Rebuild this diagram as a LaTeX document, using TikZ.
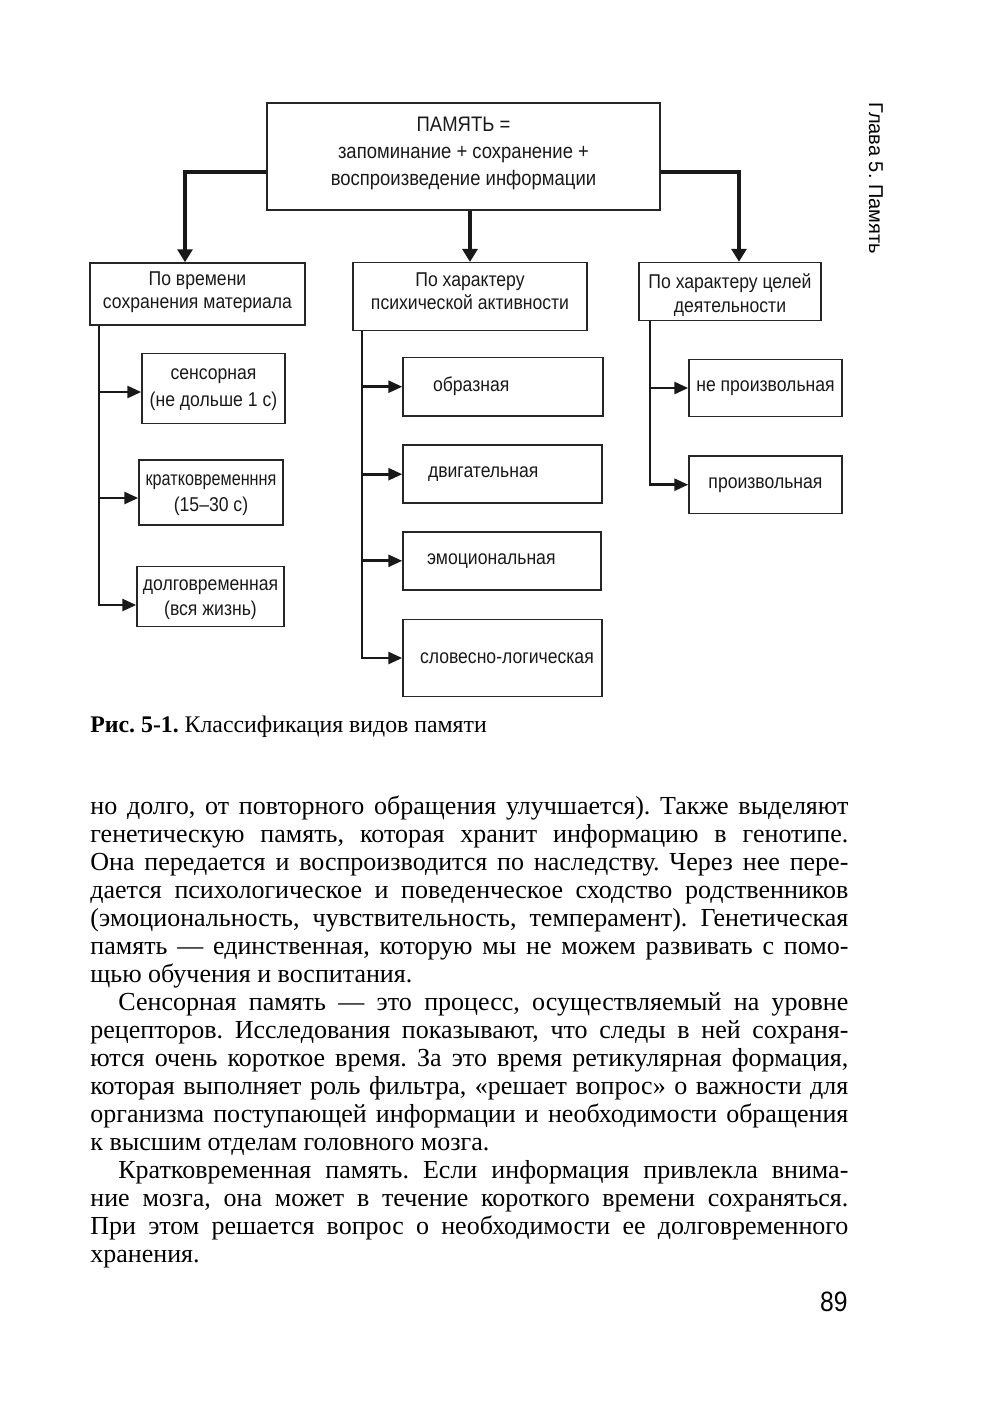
\documentclass[tikz,border=0pt]{standalone}
\usepackage{fontspec}
\setmainfont{Liberation Serif}
\newfontfamily\dsans[FakeStretch=0.88]{Liberation Sans}
\newfontfamily\dsansn[FakeStretch=0.81]{Liberation Sans}
\newfontfamily\hsans{Liberation Sans}
\newfontfamily\bodyfont{Liberation Serif}
\usetikzlibrary{arrows.meta}
\frenchspacing
\begin{document}
\begin{tikzpicture}[x=0.5pt,y=-0.5pt,
  box/.style={draw=black!85, line width=0.75pt, inner sep=0pt, text=black!90,
    font=\dsans\fontsize{10}{11.5}\selectfont},
  conn/.style={draw=black!90, line width=1.6pt, -{Triangle[length=6.5pt,width=7.5pt]}},
  branch/.style={draw=black!90, line width=1.35pt, -{Triangle[length=7pt,width=6pt]}},
  bodyline/.style={anchor=base west, inner sep=0pt, font=\bodyfont\fontsize{13}{14}\selectfont},
]
\useasboundingbox (0,0) rectangle (1000,1420);

% ---- boxes
\node[box] (top) at (463.5,156.5) {\parbox[c][53.5pt][c]{196.5pt}{\centering\fontsize{10.5}{13.6}\selectfont
  ПАМЯТЬ =\\запоминание + сохранение +\\воспроизведение информации\par\vspace*{3pt}}};
\node[box] (A) at (197.5,294) {\parbox[c][31pt][c]{107.5pt}{\centering
  По времени\\сохранения материала\par\vspace*{1.5pt}}};
\node[box] (B) at (470,296.7) {\parbox[c][34pt][c]{117pt}{\centering
  По характеру\\психической активности\par\vspace*{5.5pt}}};
\node[box] (C) at (730,291.5) {\parbox[c][29pt][c]{91pt}{\centering\fontsize{10}{12}\selectfont\vspace*{4pt}
  По характеру целей\\деятельности}};

\node[box] (s1) at (213.5,388.3) {\parbox[c][35pt][c]{71.5pt}{\centering\fontsize{10}{13.5}\selectfont\vspace*{1pt}
  сенсорная\\(не дольше 1 с)}};
\node[box] (s2) at (211,492.5) {\parbox[c][32.5pt][c]{72pt}{\centering\fontsize{10}{12.8}\selectfont\vspace*{2.5pt}
  {\dsansn кратковременння}\\(15–30 с)}};
\node[box] (s3) at (210.5,596.7) {\parbox[c][30pt][c]{73.5pt}{\centering\fontsize{10}{12.3}\selectfont\vspace*{3pt}
  долговременная\\(вся жизнь)}};

\node[box] (m1) at (503,386.7) {\parbox[c][29.3pt][c]{100pt}{\hspace*{15pt}образная}};
\node[box] (m2) at (502.5,474.2) {\parbox[c][29pt][c]{99.5pt}{\hspace*{12.5pt}двигательная}};
\node[box] (m3) at (502,560.8) {\parbox[c][29pt][c]{99pt}{\hspace*{12pt}эмоциональная}};
\node[box] (m4) at (502.5,658) {\parbox[c][38.7pt][c]{99.5pt}{\hspace*{8.5pt}словесно-логическая}};

\node[box] (r1) at (765.5,388) {\parbox[c][28.7pt][c]{76.5pt}{\centering не произвольная}};
\node[box] (r2) at (765.5,484.7) {\parbox[c][28.7pt][c]{76.5pt}{\centering произвольная}};

% ---- main connectors
\coordinate (jL) at (185,172);
\coordinate (jR) at (739,172);
\draw[conn] (jL -| top.west) -- (jL) -- (jL |- A.north);
\draw[conn] (B.north |- top.south) -- (B.north);
\draw[conn] (jR -| top.east) -- (jR) -- (jR |- C.north);

% ---- left branches
\coordinate (a1) at (99,392);
\coordinate (a2) at (99,498);
\coordinate (a3) at (99,605);
\draw[branch] (a1 |- A.south) -- (a3) -- (a3 -| s3.west);
\draw[branch] (a1) -- (a1 -| s1.west);
\draw[branch] (a2) -- (a2 -| s2.west);

% ---- middle branches
\coordinate (vm) at (362,0);
\draw[branch] (vm |- B.south) -- (vm |- m4.west) -- (m4.west);
\draw[branch] (vm |- m1.west) -- (m1.west);
\draw[branch] (vm |- m2.west) -- (m2.west);
\draw[branch] (vm |- m3.west) -- (m3.west);

% ---- right branches
\coordinate (vr) at (650,0);
\draw[branch] (vr |- C.south) -- (vr |- r2.west) -- (r2.west);
\draw[branch] (vr |- r1.west) -- (r1.west);

% ---- caption
\node[anchor=base west, inner sep=0pt, font=\bodyfont\fontsize{11.9}{13}\selectfont] (cap) at (90,732)
  {\textbf{Рис. 5-1.} Классификация видов памяти};

% ---- running head and page number
\node[anchor=base west, rotate=-90, inner sep=0pt, font=\hsans\fontsize{10}{12}\selectfont] (head) at (869,102)
  {Глава 5. Память};
\node[anchor=base east, inner sep=0pt, font=\dsans\fontsize{14}{16}\selectfont] (pg) at (848,1311) {89};

% ---- body text
\node[bodyline] (l1) at (90,814) {\makebox[379pt][s]{но долго, от повторного обращения улучшается). Также выделяют}};
\node[bodyline] (l2) at (90,842) {\makebox[379pt][s]{генетическую память, которая хранит информацию в генотипе.}};
\node[bodyline] (l3) at (90,870) {\makebox[379pt][s]{Она передается и воспроизводится по наследству. Через нее пере-}};
\node[bodyline] (l4) at (90,898) {\makebox[379pt][s]{дается психологическое и поведенческое сходство родственников}};
\node[bodyline] (l5) at (90,926) {\makebox[379pt][s]{(эмоциональность, чувствительность, темперамент). Генетическая}};
\node[bodyline] (l6) at (90,954) {\makebox[379pt][s]{память — единственная, которую мы не можем развивать с помо-}};
\node[bodyline] (l7) at (90,982) {щью обучения и воспитания.};
\node[bodyline] (l8) at (118,1010) {\makebox[365pt][s]{Сенсорная память — это процесс, осуществляемый на уровне}};
\node[bodyline] (l9) at (90,1038) {\makebox[379pt][s]{рецепторов. Исследования показывают, что следы в ней сохраня-}};
\node[bodyline] (l10) at (90,1066) {\makebox[379pt][s]{ются очень короткое время. За это время ретикулярная формация,}};
\node[bodyline] (l11) at (90,1094) {\makebox[379pt][s]{которая выполняет роль фильтра, «решает вопрос» о важности для}};
\node[bodyline] (l12) at (90,1122) {\makebox[379pt][s]{организма поступающей информации и необходимости обращения}};
\node[bodyline] (l13) at (90,1150) {к высшим отделам головного мозга.};
\node[bodyline] (l14) at (118,1178) {\makebox[365pt][s]{Кратковременная память. Если информация привлекла внима-}};
\node[bodyline] (l15) at (90,1206) {\makebox[379pt][s]{ние мозга, она может в течение короткого времени сохраняться.}};
\node[bodyline] (l16) at (90,1234) {\makebox[379pt][s]{При этом решается вопрос о необходимости ее долговременного}};
\node[bodyline] (l17) at (90,1262) {хранения.};
\end{tikzpicture}
\end{document}
